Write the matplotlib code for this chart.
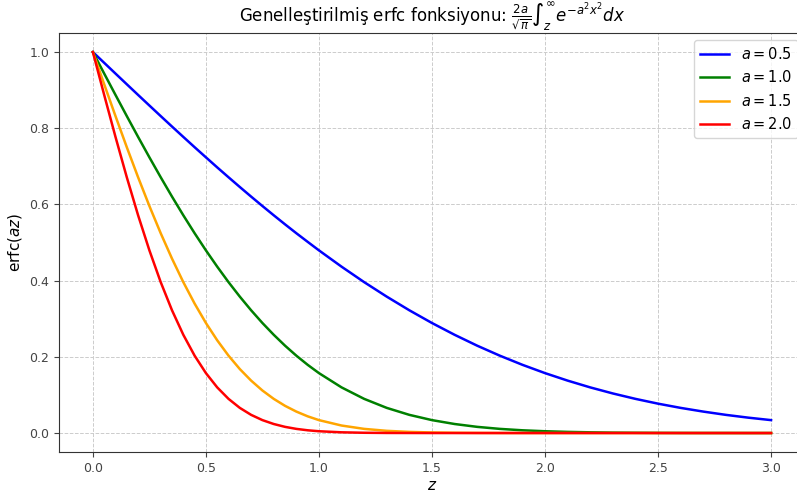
import matplotlib
matplotlib.use("Agg")
import matplotlib.pyplot as plt

# z grid and curve values
z = [0.0, 0.05, 0.1, 0.15, 0.2, 0.25, 0.3, 0.35, 0.4, 0.45, 0.5,
     0.55, 0.6, 0.65, 0.7, 0.75, 0.8, 0.85, 0.9, 0.95, 1.0,
     1.1, 1.2, 1.3, 1.4, 1.5, 1.6, 1.7, 1.8, 1.9, 2.0,
     2.1, 2.2, 2.3, 2.4, 2.5, 2.6, 2.7, 2.8, 2.9, 3.0]

a_values = [0.5, 1.0, 1.5, 2.0]
colors = ['blue', 'green', 'orange', 'red']

erfc_a05 = [1.0, 0.9718, 0.9436, 0.9155, 0.8875, 0.8597, 0.8320, 0.8045, 0.7773, 0.7503, 0.7237,
            0.6973, 0.6714, 0.6458, 0.6206, 0.5959, 0.5716, 0.5478, 0.5245, 0.5019, 0.4795,
            0.4367, 0.3961, 0.3580, 0.3222, 0.2888, 0.2579, 0.2293, 0.2031, 0.1791, 0.1573,
            0.1376, 0.1198, 0.1039, 0.0897, 0.0771, 0.0660, 0.0563, 0.0477, 0.0403, 0.0339]
erfc_a10 = [1.0, 0.9436, 0.8875, 0.8320, 0.7773, 0.7237, 0.6714, 0.6206, 0.5716, 0.5245, 0.4795,
            0.4367, 0.3961, 0.3580, 0.3222, 0.2888, 0.2579, 0.2293, 0.2031, 0.1791, 0.1573,
            0.1198, 0.0897, 0.0660, 0.0477, 0.0339, 0.0237, 0.0162, 0.0109, 0.0072, 0.0047,
            0.0030, 0.0019, 0.0011, 0.0007, 0.0004, 0.0002, 0.0001, 0.0001, 0.0, 0.0]
erfc_a15 = [1.0, 0.9155, 0.8320, 0.7503, 0.6714, 0.5959, 0.5245, 0.4578, 0.3961, 0.3398, 0.2888,
            0.2434, 0.2031, 0.1679, 0.1376, 0.1116, 0.0897, 0.0714, 0.0563, 0.0439, 0.0339,
            0.0197, 0.0109, 0.0058, 0.0030, 0.0015, 0.0007, 0.0003, 0.0001, 0.0, 0.0,
            0.0, 0.0, 0.0, 0.0, 0.0, 0.0, 0.0, 0.0, 0.0, 0.0]
erfc_a20 = [1.0, 0.8875, 0.7773, 0.6714, 0.5716, 0.4795, 0.3961, 0.3222, 0.2579, 0.2031, 0.1573,
            0.1198, 0.0897, 0.0660, 0.0477, 0.0339, 0.0237, 0.0162, 0.0109, 0.0072, 0.0047,
            0.0019, 0.0007, 0.0002, 0.0001, 0.0, 0.0, 0.0, 0.0, 0.0, 0.0,
            0.0, 0.0, 0.0, 0.0, 0.0, 0.0, 0.0, 0.0, 0.0, 0.0]

series = [erfc_a05, erfc_a10, erfc_a15, erfc_a20]

fig = plt.figure(figsize=(7.97, 4.93), dpi=100)
ax = fig.add_axes([0.074, 0.083, 0.936, 0.850])

for a, vals, c in zip(a_values, series, colors):
    ax.plot(z, vals, color=c, linewidth=1.8, label=f'$a = {a}$')

ax.set_title('Genelleştirilmiş erfc fonksiyonu: '
             r'$\frac{2a}{\sqrt{\pi}}\int_z^\infty e^{-a^2x^2}dx$', fontsize=12)
ax.set_xlabel('$z$', fontsize=11, labelpad=2)
ax.set_ylabel('erfc$(az)$', fontsize=11)
ax.grid(True, linestyle='--', linewidth=0.7, color='#cccccc')
ax.tick_params(labelsize=9, colors='#444444')
for s in ax.spines.values():
    s.set_color('#333333')
ax.legend(loc='upper right', fontsize=10.5)

fig.savefig('out.png', dpi=100)
